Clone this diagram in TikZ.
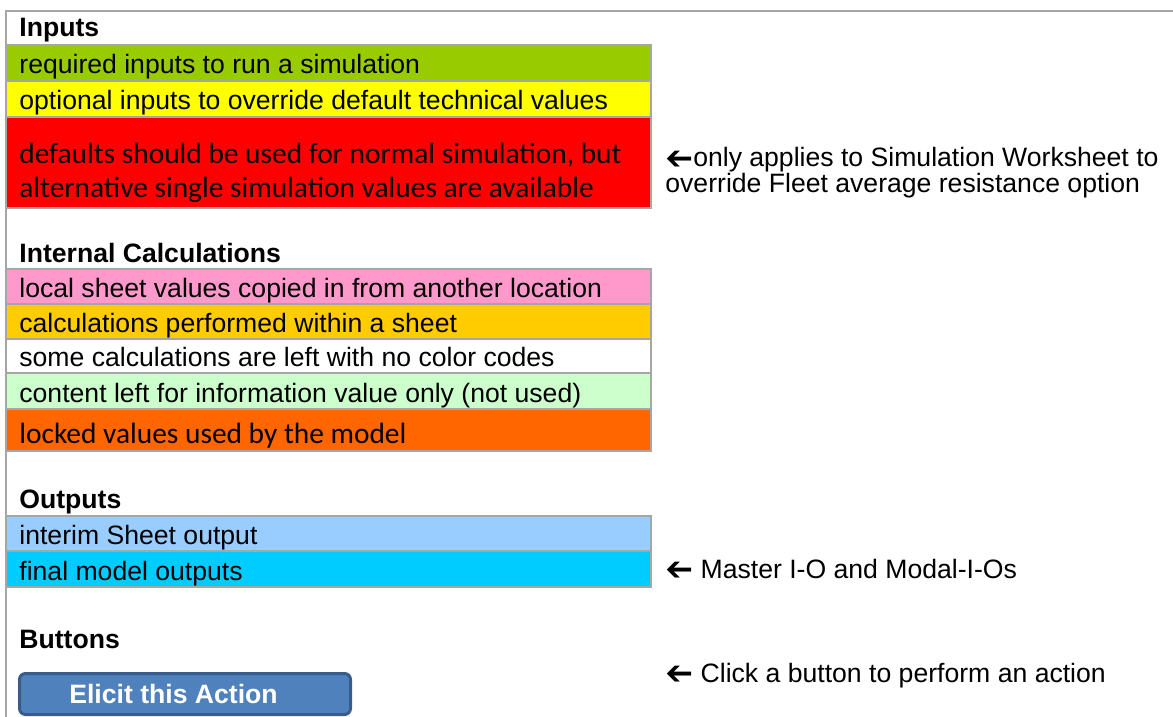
\documentclass[tikz,border=0pt]{standalone}
\usepackage{fontspec}
\usepackage{graphicx}
\usepackage{xcolor}
\usepackage{tikz}
\usetikzlibrary{positioning,calc}
\setmainfont{Liberation Sans}
\newfontfamily\calibrifont{Carlito}
\newfontfamily\symfont{DejaVu Sans}
\definecolor{keyGray}{HTML}{A6A6A6}
\definecolor{keyGreen}{HTML}{99CC00}
\definecolor{keyYellow}{HTML}{FFFF00}
\definecolor{keyRed}{HTML}{FF0000}
\definecolor{keyPink}{HTML}{FF99CC}
\definecolor{keyGold}{HTML}{FFCC00}
\definecolor{keyMint}{HTML}{CCFFCC}
\definecolor{keyOrange}{HTML}{FF6600}
\definecolor{keySky}{HTML}{99CCFF}
\definecolor{keyCyan}{HTML}{00CCFF}
\definecolor{btnFill}{HTML}{4F81BD}
\definecolor{btnEdge}{HTML}{385D8A}
\newcommand{\lftarrow}{{\symfont\raisebox{-0.08em}{\scalebox{1.25}{\reflectbox{➔}}}}}

\begin{document}
\begin{tikzpicture}[x=0.5pt,y=-0.5pt,
  txt/.style={anchor=base west,inner sep=0pt,font=\fontsize{13.3}{16}\selectfont},
  hdr/.style={txt,font=\fontsize{13.3}{16}\selectfont\bfseries},
  cal/.style={txt,font=\calibrifont\fontsize{14.7}{18}\selectfont},
  cell/.style={draw=keyGray,line width=1pt}]
  \useasboundingbox (0,0) rectangle (1173,717);
  % sheet frame
  \draw[keyGray,line width=1pt] (1173,11) -- (6,11) -- (6,717);

  % section headers
  \foreach \yb/\nm/\lab in {37/hdrIn/Inputs,262/hdrCalc/Internal Calculations,
    508/hdrOut/Outputs,648/hdrBtn/Buttons}{
    \node[hdr] (\nm) at (19,\yb) {\lab};
  }

  % colour rows, Arial text
  \foreach \ya/\yb/\col/\lab in {
    45/81/keyGreen/required inputs to run a simulation,
    81/117/keyYellow/optional inputs to override default technical values,
    269/304/keyPink/local sheet values copied in from another location,
    304/339/keyGold/calculations performed within a sheet,
    339/373/white/some calculations are left with no color codes,
    373/409/keyMint/content left for information value only (not used),
    516/551/keySky/interim Sheet output,
    551/587/keyCyan/final model outputs}{
    \filldraw[cell,fill=\col] (6,\ya) rectangle (651,\yb);
    \node[txt] (row\ya) at (19,\yb-7) {\lab};
  }

  % colour rows, Calibri text
  \filldraw[cell,fill=keyRed] (6,117) rectangle (651,208);
  \node[cal] (rowRedA) at (19,163) {defaults should be used for normal simulation, but};
  \node[cal] (rowRedB) at (19,198) {alternative single simulation values are available};
  \filldraw[cell,fill=keyOrange] (6,409) rectangle (651,451);
  \node[cal] (rowLock) at (19,443) {locked values used by the model};

  % notes on the right
  \node[txt] (noteSimA) at (665,167) {\lftarrow only applies to Simulation Worksheet to};
  \node[txt] (noteSimB) at (665,192) {override Fleet average resistance option};
  \node[txt] (noteOut) at (665,578) {\lftarrow{} Master I-O and Modal-I-Os};
  \node[txt] (noteBtn) at (665,682) {\lftarrow{} Click a button to perform an action};

  % button
  \node[draw=btnEdge,fill=btnFill,line width=1.5pt,rounded corners=3pt,
    minimum width=165.5pt,minimum height=20.5pt,inner sep=0pt,text=white,
    font=\fontsize{13.3}{16}\selectfont\bfseries] (btn) at (185,694)
    {\hspace*{-11.5pt}Elicit this Action};
\end{tikzpicture}
\end{document}
